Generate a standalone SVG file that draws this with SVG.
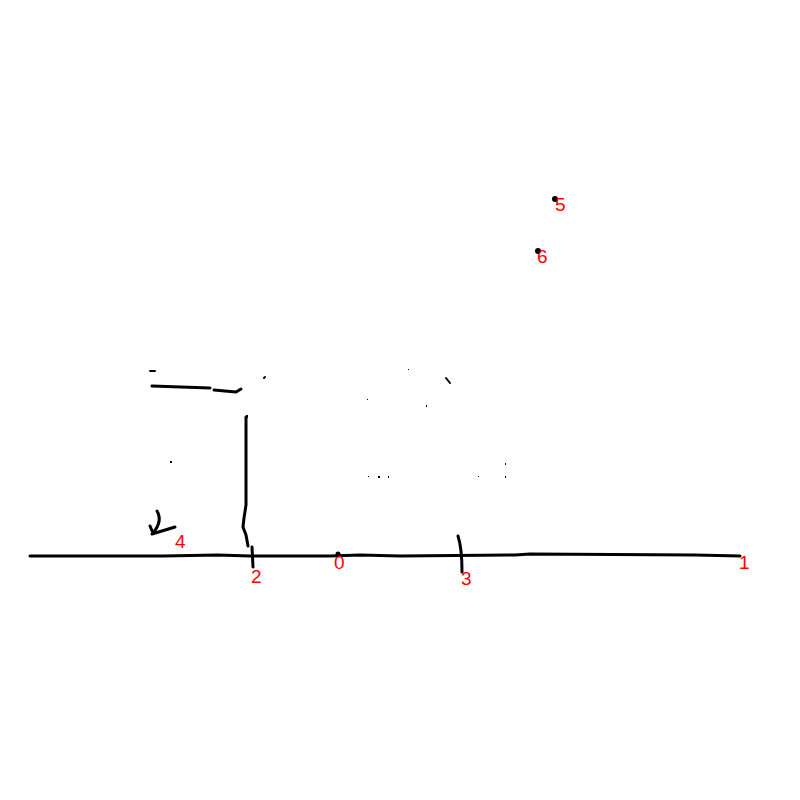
<svg xmlns="http://www.w3.org/2000/svg" width="800" height="800" viewBox="0 0 800 800">
<style>
.s{fill:none;stroke:#000;stroke-width:3;stroke-linecap:round;stroke-linejoin:round}
.t{stroke-width:2}
.l{fill:#f00;font-family:"Liberation Sans",Arial,sans-serif;font-size:19px}
.d{fill:#000}
</style>
<rect width="800" height="800" fill="#fff"/>
<g id="lines">
<polyline class="s" points="30,556 163,556 218,555 250,556 330,556 360,555 400,556 515,555 530,554 695,555 740,556"/>
<polyline class="s" points="246,417 246,505 244,518 243,527 246,535 248,546"/>
<line class="s" x1="252" y1="547" x2="253" y2="567"/>
<path class="s" d="M458,536 Q462,548 462,572"/>
<path class="s" d="M157,511 Q163,521 153,533 M152,534 L175,527 M150,526 L153,533"/>
<polyline class="s" points="152,386 210,388"/>
<polyline class="s" points="214,390 236,392 241,389"/>
<line class="s t" x1="150" y1="371" x2="155" y2="371"/>
<line class="s t" x1="446" y1="378" x2="450" y2="383"/>
<line class="s t" x1="264" y1="378" x2="265" y2="377"/>
</g>
<g id="dots">
<rect class="d" x="170" y="461" width="2" height="2"/>
<rect class="d" x="368" y="476" width="1" height="1"/>
<rect class="d" x="378" y="476" width="2" height="2"/>
<rect class="d" x="388" y="476" width="1" height="2"/>
<rect class="d" x="478" y="476" width="1" height="1"/>
<rect class="d" x="505" y="463" width="1" height="2"/>
<rect class="d" x="505" y="476" width="1" height="2"/>
<rect class="d" x="367" y="399" width="1" height="1"/>
<rect class="d" x="426" y="405" width="1" height="2"/>
<rect class="d" x="408" y="369" width="1" height="1"/>
<rect class="d" x="246" y="415" width="2" height="3"/>
<circle class="d" cx="555" cy="199" r="3"/>
<circle class="d" cx="538" cy="251" r="3"/>
<circle class="d" cx="338" cy="554" r="2.5"/>
</g>
<g id="labels">
<text class="l" x="555" y="211">5</text>
<text class="l" x="537" y="263">6</text>
<text class="l" x="175" y="548">4</text>
<text class="l" x="251" y="583">2</text>
<text class="l" x="334" y="569">0</text>
<text class="l" x="461" y="585">3</text>
<text class="l" x="739" y="569">1</text>
</g>
</svg>
